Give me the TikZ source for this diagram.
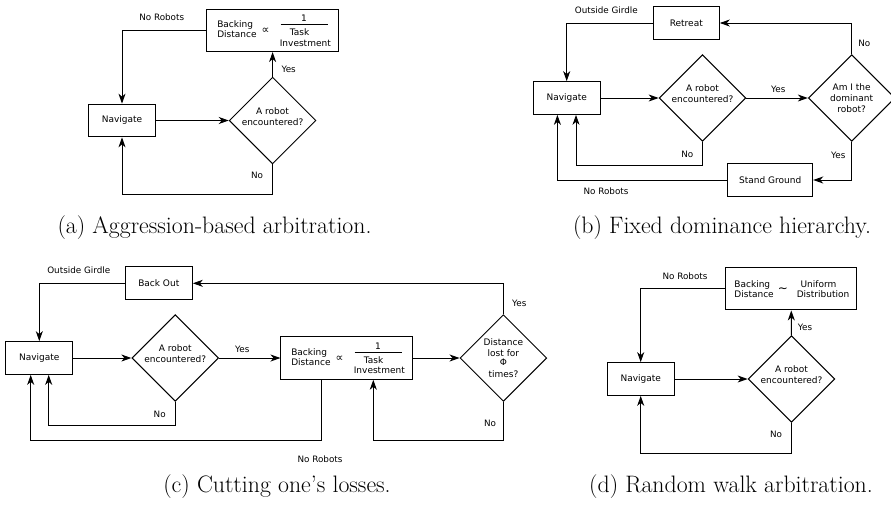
\documentclass[tikz,border=0pt]{standalone}
\usepackage{fontspec}
\newfontfamily\flowfont{DejaVu Sans}
\usetikzlibrary{shapes.geometric,arrows.meta,calc}

\tikzset{
  flow/.style={line width=1pt, draw=black},
  arr/.style={flow, -{Stealth[length=10pt,width=7pt,inset=3pt]}},
  txt/.style={font=\flowfont\fontsize{9}{10.8}\selectfont, inner sep=0pt, align=center},
  lbl/.style={font=\flowfont\fontsize{8.8}{10.5}\selectfont, inner sep=0pt},
  procbox/.style={draw=black, line width=1pt, rectangle, inner sep=0pt,
    minimum height=32.7pt, minimum width=66.7pt,
    font=\flowfont\fontsize{9}{10.8}\selectfont},
  decision/.style={draw=black, line width=1pt, diamond, aspect=1, inner sep=0pt,
    minimum width=86.7pt, minimum height=86.7pt},
  subcap/.style={font=\fontsize{23.8}{28}\selectfont, inner sep=0pt, anchor=base},
}

% Box: backing distance proportional to 1 / task investment
\newcommand\investbox[2]{%
  \node[procbox, minimum width=131.3pt, minimum height=42.5pt] (#1) at (#2) {};
  \node[txt, anchor=base west] (#1-b) at ($(#1.center)+(-55.5,-2.7)$) {Backing};
  \node[txt, anchor=base west] (#1-d) at ($(#1.center)+(-55.5,7.3)$) {Distance};
  \node[txt, font=\flowfont\fontsize{11}{11}\selectfont] (#1-p) at ($(#1.center)+(-7,0.7)$) {∝};
  \node[txt] (#1-n) at ($(#1.center)+(31.5,-12)$) {1};
  \draw[flow, line width=1pt] ($(#1.center)+(8,-5.4)$) -- ($(#1.center)+(55,-5.4)$);
  \node[txt, anchor=base] (#1-t) at ($(#1.center)+(27,5.6)$) {Task};
  \node[txt, anchor=base] (#1-i) at ($(#1.center)+(32.7,15.9)$) {Investment};
}

\begin{document}
\begin{tikzpicture}[x=1pt,y=-1pt]
\fill[white] (0,0) rectangle (891,504);
\useasboundingbox (0,0) rectangle (891,504);

% ---------- (a) aggression-based arbitration ----------
\node[procbox] (na) at (122,120.5) {Navigate};
\node[decision] (da) at (272.6,120.5) {};
\node[txt] (da-t) at ([yshift=4pt]da.center) {A robot\\encountered?};
\investbox{ba}{272.6,30.3}
\draw[arr] (na) -- (da);
\draw[arr] (da) -- (ba);
\draw[arr] (ba.west) -| (na.north);
\draw[arr] (da.south) -- ++(0,30.5) -| (na.south);
\node[lbl] (la1) at (161.7,17.7) {No Robots};
\node[lbl] (la2) at (288.7,69) {Yes};
\node[lbl] (la3) at (257,175.7) {No};
\node[subcap] (capa) at (214.5,233.3) {(a) Aggression-based arbitration.};

% ---------- (b) fixed dominance hierarchy ----------
\node[procbox] (nb) at (566.7,98) {Navigate};
\node[decision] (db1) at (702.5,98) {};
\node[txt] (db1-t) at ([yshift=4pt]db1.center) {A robot\\encountered?};
\node[decision] (db2) at (851.7,98) {};
\node[txt] (db2-t) at (db2.center) {Am I the\\dominant\\robot?};
\node[procbox, minimum width=66pt] (rb) at (686.3,23) {Retreat};
\node[procbox, minimum width=85pt, minimum height=33.3pt] (sb) at (770.2,180) {Stand Ground};
\draw[arr] (nb) -- (db1);
\draw[arr] (db1) -- (db2);
\draw[arr] (db2.north) |- (rb.east);
\draw[arr] (rb.west) -| (nb.north);
\draw[arr] (db2.south) |- (sb.east);
\draw[arr] (db1.south) -- ++(0,23.3) -| ([xshift=9.3pt]nb.south);
\draw[arr] (sb.west) -| ([xshift=-9.3pt]nb.south);
\node[lbl] (lb1) at (606.3,10.7) {Outside Girdle};
\node[lbl] (lb2) at (778.3,89.3) {Yes};
\node[lbl] (lb3) at (864.3,43.3) {No};
\node[lbl] (lb4) at (838.3,155.3) {Yes};
\node[lbl] (lb5) at (687.3,154) {No};
\node[lbl] (lb6) at (606,191.7) {No Robots};
\node[subcap] (capb) at (722,233.3) {(b) Fixed dominance hierarchy.};

% ---------- (c) cutting one's losses ----------
\node[procbox] (nc) at (39.3,358) {Navigate};
\node[decision] (dc1) at (175.2,358) {};
\node[txt] (dc1-t) at ([yshift=4pt]dc1.center) {A robot\\encountered?};
\investbox{bc}{346.6,358}
\node[decision] (dc2) at (503.4,358) {};
\node[txt] (dc2-t) at (dc2.center) {Distance\\lost for\\[-2pt]Φ\\[1.5pt]times?};
\node[procbox, minimum width=67pt, minimum height=33pt] (oc) at (158.8,283.3) {Back Out};
\draw[arr] (nc) -- (dc1);
\draw[arr] (dc1) -- (bc);
\draw[arr] (bc) -- (dc2);
\draw[arr] (dc2.north) |- (oc.east);
\draw[arr] (oc.west) -| (nc.north);
\draw[arr] (dc1.south) -- ++(0,23.7) -| ([xshift=9.4pt]nc.south);
\draw[arr] ([xshift=-25.6pt]bc.south) -- ++(0,60.8) -| ([xshift=-8.6pt]nc.south);
\draw[arr] (dc2.south) -- ++(0,38.6) -| ([xshift=26.7pt]bc.south);
\node[lbl] (lc1) at (78.8,270.7) {Outside Girdle};
\node[lbl] (lc2) at (242.3,349.3) {Yes};
\node[lbl] (lc3) at (519.3,303.3) {Yes};
\node[lbl] (lc4) at (159.7,414.3) {No};
\node[lbl] (lc5) at (320,459) {No Robots};
\node[lbl] (lc6) at (490,423.3) {No};
\node[subcap] (capc) at (277,492.3) {(c) Cutting one's losses.};

% ---------- (d) random walk arbitration ----------
\node[procbox] (nd) at (640.7,379) {Navigate};
\node[decision] (dd) at (791.5,379) {};
\node[txt] (dd-t) at ([yshift=4.5pt]dd.center) {A robot\\encountered?};
\node[procbox, minimum width=131.4pt, minimum height=42.7pt] (bd) at (791.2,288.6) {};
\node[txt, anchor=base west] (bd-b) at ($(bd.center)+(-57,-1)$) {Backing};
\node[txt, anchor=base west] (bd-d) at ($(bd.center)+(-57,9.2)$) {Distance};
\node[txt, font=\flowfont\fontsize{12}{12}\selectfont] (bd-s) at ($(bd.center)+(-8.3,1.5)$) {∼};
\node[txt, anchor=base] (bd-u) at ($(bd.center)+(27.3,-1)$) {Uniform};
\node[txt, anchor=base] (bd-r) at ($(bd.center)+(31.8,9.2)$) {Distribution};
\draw[arr] (nd) -- (dd);
\draw[arr] (dd) -- (bd);
\draw[arr] (bd.west) -| (nd.north);
\draw[arr] (dd.south) -- ++(0,30.3) -| (nd.south);
\node[lbl] (ld1) at (685,276.7) {No Robots};
\node[lbl] (ld2) at (805,327.3) {Yes};
\node[lbl] (ld3) at (776,434.3) {No};
\node[subcap] (capd) at (731,492.3) {(d) Random walk arbitration.};
\end{tikzpicture}
\end{document}
